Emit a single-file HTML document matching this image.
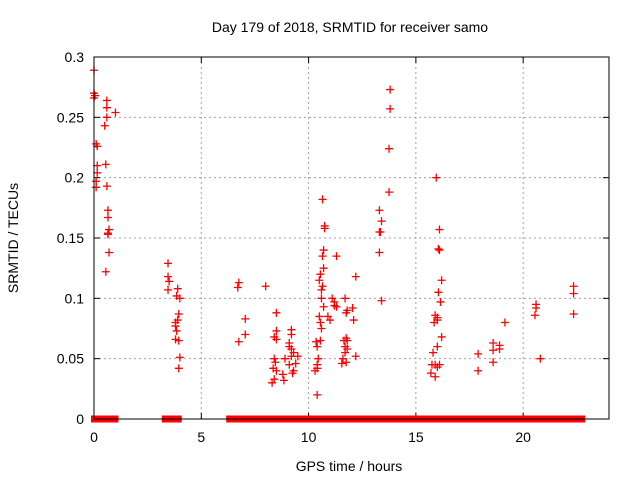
<!DOCTYPE html>
<html><head><meta charset="utf-8"><style>
body{margin:0;background:#fff;}
svg{display:block;font-family:"Liberation Sans",sans-serif;}
</style></head><body>
<svg id="chart" width="640" height="480">
<text x="350" y="32" text-anchor="middle" font-size="14">Day 179 of 2018, SRMTID for receiver samo</text>
<text x="349" y="471" text-anchor="middle" font-size="14">GPS time / hours</text>
<text transform="translate(18,238) rotate(-90)" text-anchor="middle" font-size="14">SRMTID / TECUs</text>
<g id="grid"></g><g id="ticks"></g><g id="marks"></g>
<rect x="94" y="57" width="515" height="362" fill="none" stroke="#000" stroke-width="1"/>
</svg>
<script>
const xTicks=[0,5,10,15,20];
const yTicks=[0,0.05,0.1,0.15,0.2,0.25,0.3];
const yTickLabels=["0","0.05","0.1","0.15","0.2","0.25","0.3"];
const times=[0,0,0,0.05,0.1,0.15,0.15,0.15,0.1,0.1,0.6,0.6,0.6,0.5,1.0,0.55,0.6,0.65,0.65,0.7,0.65,0.65,0.7,0.55,
3.45,3.45,3.5,3.45,3.9,3.85,4.0,3.95,3.9,3.8,3.8,3.85,3.8,3.95,4.0,3.95,
6.75,6.7,7.05,7.05,6.75,8.0,
8.5,8.5,8.4,8.5,8.4,8.45,8.35,8.5,8.3,8.4,8.9,8.8,8.85,9.2,9.2,9.1,9.2,9.3,9.2,9.1,9.3,9.25,9.5,9.4,9.1,
10.65,10.75,10.75,10.7,10.65,10.7,10.55,10.5,10.65,10.6,10.6,10.7,10.5,10.55,10.6,10.55,10.35,10.4,10.45,10.4,10.3,10.4,10.4,11.2,11.1,11.0,10.9,
11.3,11.2,11.3,11.7,11.65,11.75,11.8,11.7,11.6,11.75,11.8,11.8,11.7,11.75,12.2,12.05,12.1,12.2,11.55,
13.8,13.8,13.75,13.75,13.3,13.4,13.35,13.3,13.3,13.4,
15.95,16.1,16.05,16.1,16.2,16.05,16.15,15.9,16.0,15.85,16.0,16.2,15.8,16.0,15.9,16.0,16.1,15.75,15.7,15.9,
17.9,17.9,18.6,18.6,18.6,18.9,18.9,19.15,
20.6,20.6,20.55,20.8,22.35,22.35,22.35];
const values=[0.289,0.27,0.266,0.268,0.228,0.226,0.21,0.204,0.197,0.192,0.264,0.258,0.25,0.243,0.254,0.211,0.193,0.173,0.167,0.157,0.153,0.154,0.138,0.122,
0.129,0.118,0.114,0.107,0.108,0.102,0.1,0.087,0.082,0.08,0.077,0.073,0.066,0.065,0.051,0.042,
0.113,0.109,0.083,0.07,0.064,0.11,
0.088,0.073,0.068,0.066,0.05,0.047,0.042,0.04,0.03,0.033,0.05,0.037,0.032,0.074,0.07,0.063,0.058,0.055,0.052,0.045,0.04,0.038,0.052,0.046,0.06,
0.182,0.16,0.158,0.14,0.135,0.125,0.12,0.115,0.11,0.107,0.1,0.093,0.085,0.08,0.075,0.065,0.064,0.06,0.05,0.045,0.04,0.042,0.02,0.094,0.1,0.082,0.085,
0.135,0.097,0.093,0.06,0.065,0.067,0.058,0.055,0.05,0.047,0.065,0.09,0.1,0.088,0.118,0.092,0.082,0.052,0.046,
0.273,0.257,0.224,0.188,0.173,0.164,0.155,0.155,0.138,0.098,
0.2,0.157,0.141,0.14,0.115,0.105,0.097,0.086,0.084,0.08,0.082,0.068,0.055,0.06,0.045,0.043,0.045,0.045,0.038,0.035,
0.054,0.04,0.063,0.057,0.047,0.061,0.058,0.08,
0.095,0.092,0.086,0.05,0.11,0.104,0.087];
const zeroStart=[0.0,0.12,3.3,6.3];
const zeroEnd=[0.02,1.0,3.95,22.75];

const NS="http://www.w3.org/2000/svg";
const X0=94,X1=609,Y0=419,Y1=57;
const xs=t=>X0+(t/24)*(X1-X0);
const ys=v=>Y0-(v/0.3)*(Y0-Y1);
function mk(tag,attrs,parent){const e=document.createElementNS(NS,tag);for(const k in attrs)e.setAttribute(k,attrs[k]);parent.appendChild(e);return e;}
const grid=document.getElementById('grid'),ticks=document.getElementById('ticks'),marks=document.getElementById('marks');
xTicks.forEach(t=>{const x=xs(t);
 if(t>0){const g=mk('line',{x1:x,x2:x,y1:Y1,y2:Y0,stroke:'#a0a0a0','stroke-dasharray':'2,3'},grid);
 
 }
 mk('line',{x1:x,x2:x,y1:Y0,y2:Y0-6,stroke:'#000'},ticks);
 mk('line',{x1:x,x2:x,y1:Y1,y2:Y1+6,stroke:'#000'},ticks);
 const l=mk('text',{x:x,y:442,'text-anchor':'middle','font-size':14},ticks);l.textContent=t;
 
 
});
yTicks.forEach((v,i)=>{const y=ys(v);
 if(v>0&&v<0.3){const g=mk('line',{x1:X0,x2:X1,y1:y,y2:y,stroke:'#a0a0a0','stroke-dasharray':'2,3'},grid);
 
 }
 mk('line',{x1:X0,x2:X0+6,y1:y,y2:y,stroke:'#000'},ticks);
 mk('line',{x1:X1,x2:X1-6,y1:y,y2:y,stroke:'#000'},ticks);
 const l=mk('text',{x:84,y:y+5,'text-anchor':'end','font-size':14},ticks);l.textContent=yTickLabels[i];
 
 
});
zeroStart.forEach((s,i)=>{const x=xs(s)-3,w=xs(zeroEnd[i])-xs(s)+6;
 const r=mk('rect',{x:x,y:Y0-3.5,width:w,height:7,fill:'#f00'},marks);
 
 
});
times.forEach((t,i)=>{const x=xs(t),y=ys(values[i]);
 const p=mk('path',{d:`M${x-4},${y}H${x+4}M${x},${y-4}V${y+4}`,stroke:'#f00','stroke-width':1.3,fill:'none'},marks);
 
 
});
</script>
</body></html>
